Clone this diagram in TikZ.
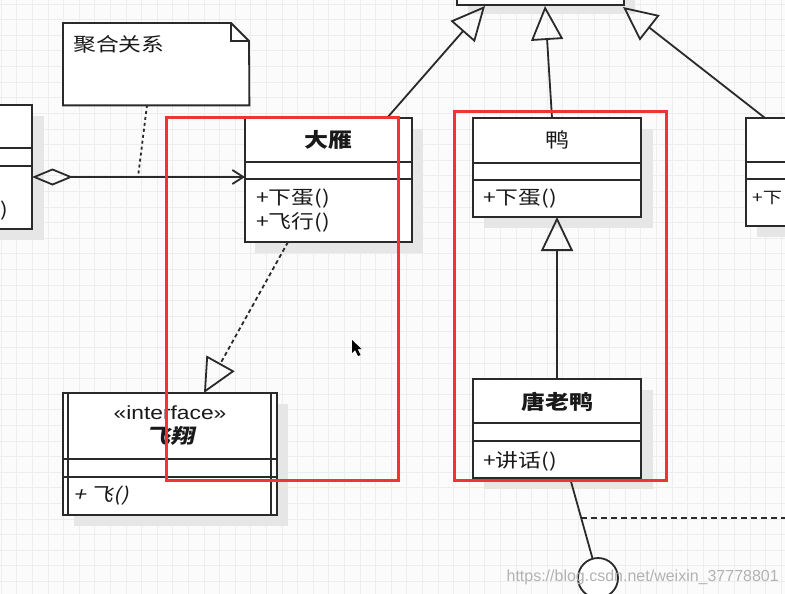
\documentclass[tikz,border=0pt]{standalone}
\usepackage{fontspec}
\setmainfont{Liberation Sans}[FakeStretch=1.2]
\newfontfamily\cjk{Noto Sans CJK SC}[FakeStretch=1.2]
\newfontfamily\cjkslant{Noto Sans CJK SC}[FakeStretch=1.2, FakeSlant=0.22]
\newfontfamily\wmfont{Liberation Sans}
\usetikzlibrary{arrows.meta, shapes.geometric, calc}
\definecolor{lc}{HTML}{2A2A2A}
\definecolor{gridc}{HTML}{EDEDED}
\definecolor{bgc}{HTML}{FBFBFB}
\definecolor{shc}{HTML}{E6E6E6}
\definecolor{redc}{HTML}{F03434}
\tikzset{
  umlbox/.style={draw=lc, line width=1.8pt, fill=white, anchor=north west, inner sep=0pt, outer sep=0pt},
  comp/.style={draw=lc, line width=1.8pt},
  shadowbox/.style={fill=shc},
  titletext/.style={font=\cjk\bfseries\fontsize{20}{24}\selectfont, text=black!90, inner sep=0pt},
  plaintext/.style={font=\cjk\fontsize{19}{23}\selectfont, text=black!90, inner sep=0pt},
  membertext/.style={font=\cjk\fontsize{19}{23}\selectfont, text=black!90, inner sep=0pt, anchor=west},
  conn/.style={draw=lc, line width=1.8pt},
  gen/.style={conn, -{Triangle[open, length=34pt, width=32pt]}},
  realize/.style={conn, dash pattern=on 4pt off 3pt, -{Triangle[open, length=34pt, width=32pt, line width=1.8pt]}},
  redbox/.style={draw=redc, line width=3pt},
}
\begin{document}
\begin{tikzpicture}[x=1pt, y=-1pt]
\clip (0,0) rectangle (785,594);
\fill[bgc] (0,0) rectangle (785,594);
\foreach \i in {1,16.6,...,790} {\draw[gridc, line width=0.6pt] (\i,0) -- (\i,594);}
\foreach \j in {4,19.6,...,600} {\draw[gridc, line width=0.6pt] (0,\j) -- (785,\j);}

% shadows
\fill[shadowbox] (-30,116) rectangle (44,240);
\fill[shadowbox] (255,129) rectangle (423,253);
\fill[shadowbox] (484,129) rectangle (653,228);
\fill[shadowbox] (757,129) rectangle (800,237);
\fill[shadowbox] (484,390) rectangle (653,489);
\fill[shadowbox] (74,404) rectangle (288,526);
\fill[shadowbox] (468,-10) rectangle (635,14);

% top box (partial)
\node[umlbox, minimum width=167pt, minimum height=30pt] (top) at (457,-25) {};

% left partial box
\node[umlbox, minimum width=80pt, minimum height=124pt] (lbox) at (-48,105) {};
\draw[comp] (-48,148) -- (32,148);
\draw[comp] (-48,166) -- (32,166);
\node[membertext] (lboxm) at (0,211) {)};

% note
\node[draw=none, minimum width=186pt, minimum height=82pt, anchor=north west, inner sep=0pt] (note) at (63,23) {};
\draw[conn, fill=white] (note.north west) -- (231,23) -- (249,41) -- (note.south east) -- (note.south west) -- cycle;
\draw[conn] (231,23) -- (231,41) -- (249,41);
\node[plaintext, anchor=west] (notet) at (73,44) {聚合关系};

% 大雁
\node[umlbox, minimum width=167pt, minimum height=124pt] (dayan) at (245,118) {};
\draw[comp] (245,162) -- (412,162);
\draw[comp] (245,179) -- (412,179);
\node[titletext] (dayant) at (328.5,140) {大雁};
\node[membertext] (dayanm1) at (256,199) {+下蛋()};
\node[membertext] (dayanm2) at (256,222) {+飞行()};

% 鸭
\node[umlbox, minimum width=168pt, minimum height=99pt] (ya) at (473,118) {};
\draw[comp] (473,163) -- (641,163);
\draw[comp] (473,180) -- (641,180);
\node[titletext, font=\cjk\fontsize{20}{24}\selectfont] (yat) at (557,140) {鸭};
\node[membertext] (yam1) at (483,199) {+下蛋()};

% right partial box
\node[umlbox, minimum width=80pt, minimum height=108pt] (rbox) at (746,118) {};
\draw[comp] (746,162) -- (826,162);
\draw[comp] (746,179) -- (826,179);
\node[membertext, font=\cjk\fontsize{16}{20}\selectfont] (rboxm) at (752,198) {+下};

% 唐老鸭
\node[umlbox, minimum width=168pt, minimum height=99pt] (tly) at (473,379) {};
\draw[comp] (473,423) -- (641,423);
\draw[comp] (473,441) -- (641,441);
\node[titletext] (tlyt) at (557,402) {唐老鸭};
\node[membertext] (tlym1) at (483,461) {+讲话()};

% interface 飞翔
\node[umlbox, minimum width=214pt, minimum height=122pt] (fx) at (63,393) {};
\draw[comp] (68,393) -- (68,515);
\draw[comp] (271,393) -- (271,515);
\draw[comp] (63,459) -- (277,459);
\draw[comp] (63,477) -- (277,477);
\node[plaintext, font=\fontsize{19}{23}\selectfont] (fxs) at (170,413) {«interface»};
\node[titletext, font=\cjkslant\bfseries\fontsize{20}{24}\selectfont] (fxt) at (170,436) {飞翔};
\node[membertext, font=\cjkslant\fontsize{19}{23}\selectfont] (fxm) at (73,496) {+ 飞()};

% lollipop
\node[circle, draw=lc, line width=1.8pt, fill=white, minimum size=40pt, inner sep=0pt] (lolli) at (598,578) {};

% connectors
\coordinate (aggS) at (32,177);
\coordinate (aggE) at (245,177);
\draw[conn, {Diamond[open, length=41pt, width=17pt]}-{Straight Barb[length=11pt, width=14pt]}] (aggS) -- (aggE);
\coordinate (noteP) at (147,105);
\coordinate (aggP) at (138,177);
\draw[conn, dash pattern=on 3pt off 3pt] (noteP) -- (aggP);

\coordinate (g1s) at (387,118);
\coordinate (g1e) at (485,6);
\draw[gen] (g1s) -- (g1e);
\coordinate (g2s) at (552,118);
\coordinate (g2e) at (545,6);
\draw[gen] (g2s) -- (g2e);
\coordinate (g3s) at (765,118);
\coordinate (g3e) at (623,7);
\draw[gen] (g3s) -- (g3e);

\coordinate (yab) at (557,217);
\draw[gen] (tly.north -| yab) -- (yab);

\coordinate (r1s) at (288,242);
\coordinate (r1e) at (204,393);
\draw[realize] (r1s) -- (r1e);

\coordinate (ls) at (570,478);
\draw[conn] (ls) -- (lolli);
\coordinate (ds) at (581,518);
\coordinate (de) at (790,518);
\draw[conn, dash pattern=on 6pt off 4pt] (ds) -- (de);

% red highlight boxes
\draw[redbox] (166,117) rectangle (398,480);
\draw[redbox] (454,111) rectangle (666,480);

% mouse cursor
\fill[black] (352,340) -- (352,353) -- (355,350) -- (358,356) -- (360.5,355) -- (357.5,349) -- (361.5,349) -- cycle;

% watermark
\node[font=\wmfont\fontsize{16}{18}\selectfont, text=black!30, anchor=east, inner sep=0pt] (wm) at (779,577) {https://blog.csdn.net/weixin\_37778801};
\end{tikzpicture}
\end{document}
